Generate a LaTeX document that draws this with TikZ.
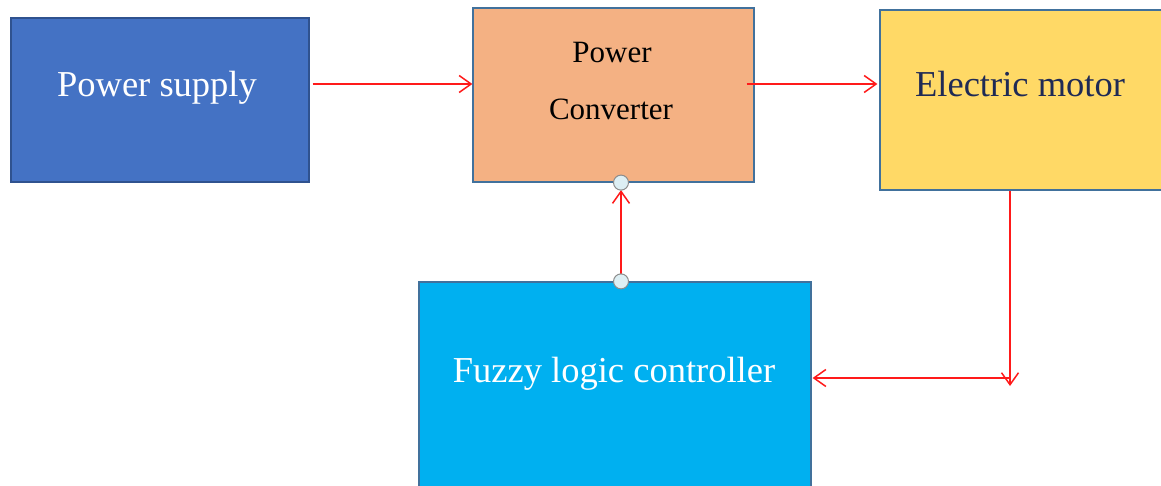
\documentclass[tikz,border=0pt]{standalone}
\usepackage{fontspec}
\setmainfont{Liberation Serif}
\usetikzlibrary{arrows.meta,calc}

\definecolor{supplyfill}{HTML}{4472C4}
\definecolor{supplyedge}{HTML}{2F528F}
\definecolor{convfill}{HTML}{F4B183}
\definecolor{motorfill}{HTML}{FFD966}
\definecolor{fuzzyfill}{HTML}{00B0F0}
\definecolor{boxedge}{HTML}{41719C}
\definecolor{motortext}{HTML}{1F2A55}
\definecolor{wire}{HTML}{FF1A1A}
\definecolor{handlefill}{HTML}{DDEFF4}
\definecolor{handleedge}{HTML}{8C8C8C}

\tikzset{
  block/.style={rectangle, draw=boxedge, line width=1.2pt, inner sep=0pt},
  bigtext/.style={anchor=base, inner sep=0pt, font=\fontsize{36.5}{40}\selectfont},
  midtext/.style={anchor=base, inner sep=0pt, font=\fontsize{31}{34}\selectfont},
  arr/.style={draw=wire, line width=1.5pt, -{Straight Barb[length=12pt,width=17pt,line width=1.5pt]}},
  handle/.style={circle, draw=handleedge, fill=handlefill, line width=1pt, minimum size=15pt, inner sep=0pt}
}

\begin{document}
\begin{tikzpicture}[x=1pt,y=-1pt]
  \useasboundingbox (0,0) rectangle (1161,486);
  \clip (0,0) rectangle (1161,486);

  % blocks
  \node[block, draw=supplyedge, fill=supplyfill, minimum width=298pt, minimum height=164pt] (ps) at (160,100) {};
  \node[block, fill=convfill, minimum width=281pt, minimum height=174pt] (cv) at (613.5,95) {};
  \node[block, fill=motorfill, minimum width=290pt, minimum height=180pt] (mo) at (1025,100) {};
  \node[block, fill=fuzzyfill, minimum width=392pt, minimum height=213pt] (fz) at (615,388.5) {};

  % labels
  \node[bigtext, text=white] (pslabel) at (157,97) {Power supply};
  \node[midtext, text=black] (cvlabel1) at (612,63) {Power};
  \node[midtext, text=black] (cvlabel2) at (611,120) {Converter};
  \node[bigtext, text=motortext] (molabel) at (1020,97) {Electric motor};
  \node[bigtext, text=white] (fzlabel) at (614,382) {Fuzzy logic controller};

  % routing points
  \coordinate (row) at (0,84);
  \coordinate (bend) at (1010,378);
  \coordinate (drop) at (1010,386);
  \coordinate (tap) at (621,0);

  % connectors
  \draw[arr, shorten <=3pt] (ps.east |- row) -- (cv.west |- row);
  \draw[arr, shorten >=2pt] ([xshift=-8pt]cv.east |- row) -- (mo.west |- row);
  \draw[arr] (mo.south -| bend) -- (drop);
  \draw[arr, shorten >=1pt] (bend) -- (fz.east |- bend);
  \draw[arr, shorten >=7.5pt] (fz.north -| tap) -- (cv.south -| tap);

  % connection handles at both ends of the feedback link
  \node[handle] (h1) at (cv.south -| tap) {};
  \node[handle] (h2) at (fz.north -| tap) {};
\end{tikzpicture}
\end{document}
